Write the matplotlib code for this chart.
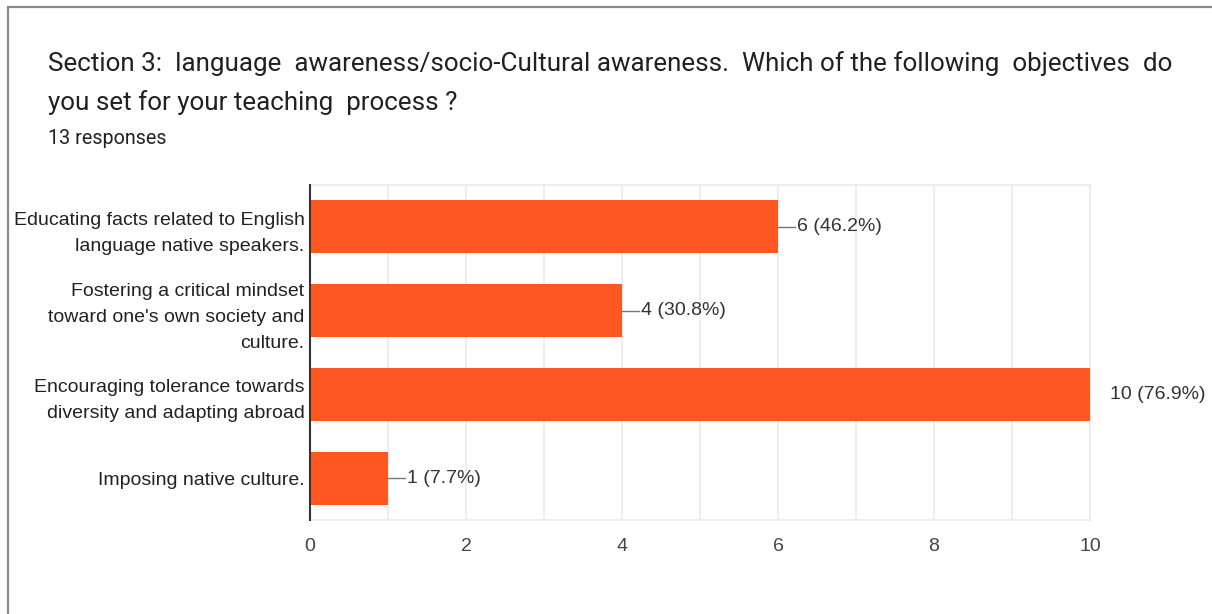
import matplotlib.pyplot as plt
from matplotlib.patches import Rectangle

categories = ["Educating facts related to English\nlanguage native speakers.",
              "Fostering a critical mindset\ntoward one's own society and\nculture.",
              "Encouraging tolerance towards\ndiversity and adapting abroad",
              "Imposing native culture."]
counts = [6, 4, 10, 1]
percents = ["46.2%", "30.8%", "76.9%", "7.7%"]
total = 13

bar_color = "#ff5722"
grid_color = "#ebebeb"

fig = plt.figure(figsize=(12.12, 6.14), dpi=100)
fig.patches.append(Rectangle((8 / 1212, -0.1), 1.2, 1 - 7 / 614 + 0.1,
                             transform=fig.transFigure, fill=False,
                             edgecolor="#8a8a8a", linewidth=1.6))

fig.text(48 / 1212, 1 - 64 / 614,
         "Section 3:  language  awareness/socio-Cultural awareness.  Which of the following  objectives  do",
         fontsize=18.7, family="Roboto", color="#202124", va="center")
fig.text(48 / 1212, 1 - 103 / 614, "you set for your teaching  process ?",
         fontsize=18.7, family="Roboto", color="#202124", va="center")
fig.text(48 / 1212, 1 - 139 / 614, f"{total} responses",
         fontsize=14.2, family="Roboto", color="#202124", va="center")

ax = fig.add_axes([310 / 1212, 94 / 614, 780 / 1212, 335 / 614])
y = list(range(len(categories)))
ax.barh(y, counts, height=0.63, color=bar_color, zorder=3)
ax.set_ylim(len(categories) - 0.5, -0.5)
ax.set_xlim(0, 10)

ax.set_xticks([0, 2, 4, 6, 8, 10])
ax.set_xticks([1, 3, 5, 7, 9], minor=True)
ax.grid(axis="x", which="both", color=grid_color, linewidth=1.2, zorder=0)
ax.tick_params(axis="x", which="both", length=0, pad=13, labelsize=14, labelcolor="#444444")
for lab in ax.get_xticklabels():
    lab.set_family("Liberation Sans")

ax.set_yticks(y)
ax.set_yticklabels(categories, fontsize=14, family="Liberation Sans",
                   color="#222222", linespacing=1.7, multialignment="right")
ax.tick_params(axis="y", length=0, pad=4)

for side in ["top", "right", "bottom"]:
    ax.spines[side].set_color(grid_color)
    ax.spines[side].set_linewidth(1.2)
ax.spines["left"].set_color("#333333")
ax.spines["left"].set_linewidth(1.5)
ax.spines["left"].set_zorder(4)

for i, (c, p) in enumerate(zip(counts, percents)):
    ax.plot([c, c + 0.22], [i, i], color="#777777", linewidth=1, zorder=4)
    ax.text(c + 0.24 if c < 10 else c + 0.26, i, f"{c} ({p})", va="center", ha="left",
            fontsize=14, family="Liberation Sans", color="#333333", clip_on=False)

fig.savefig("out.png", dpi=100, facecolor="white")
